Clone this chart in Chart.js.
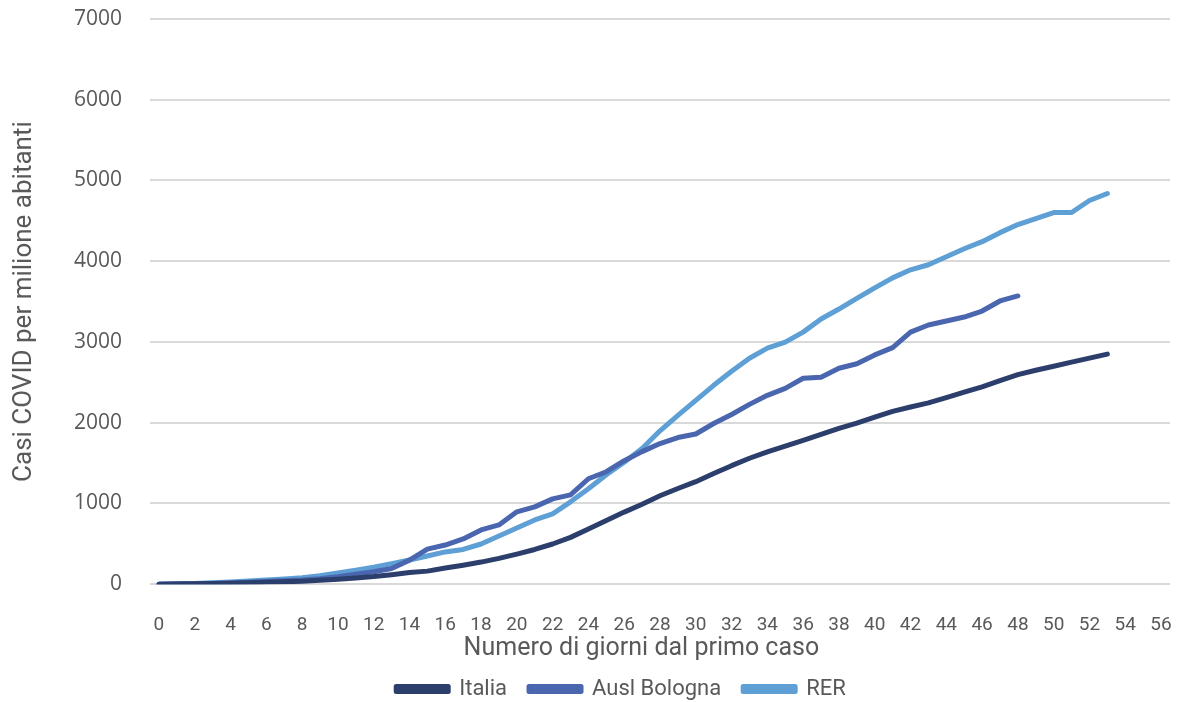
<!DOCTYPE html>
<html>
<head>
<meta charset="utf-8">
<script src="https://cdn.jsdelivr.net/npm/chart.js@4.4.1/dist/chart.umd.min.js"></script>
<style>
  html, body { margin: 0; padding: 0; background: #fff; }
  #wrap { width: 1184px; height: 702px; position: relative; }
</style>
</head>
<body>
<div id="wrap"><canvas id="chart"></canvas></div>
<script>
// days since first case (category axis)
const days = [0, 1, 2, 3, 4, 5, 6, 7, 8, 9, 10, 11, 12, 13, 14, 15, 16, 17, 18, 19,
    20, 21, 22, 23, 24, 25, 26, 27, 28, 29, 30, 31, 32, 33, 34, 35, 36, 37, 38, 39,
    40, 41, 42, 43, 44, 45, 46, 47, 48, 49, 50, 51, 52, 53, 54, 55, 56];

// cases per million inhabitants
const italia = [0, 2, 5, 8, 12, 17, 23, 30, 38, 50, 62, 78, 95, 118, 145, 162, 200, 235, 274, 320,
    373, 430, 498, 580, 684, 790, 893, 990, 1095, 1185, 1270, 1370, 1468, 1560, 1640, 1710, 1780, 1855, 1930, 1995,
    2070, 2140, 2195, 2245, 2310, 2380, 2445, 2520, 2595, 2650, 2700, 2750, 2800, 2850];

const bologna = [0, 3, 6, 10, 16, 23, 32, 42, 52, 68, 92, 125, 155, 195, 298, 435, 485, 560, 672, 734,
    896, 958, 1057, 1107, 1306, 1393, 1530, 1642, 1742, 1816, 1860, 1990, 2102, 2227, 2339, 2426, 2550, 2563, 2675, 2730,
    2840, 2930, 3122, 3210, 3259, 3309, 3383, 3508, 3570];

const rer = [0, 5, 10, 18, 28, 40, 52, 64, 80, 105, 138, 172, 210, 255, 300, 350, 400, 430, 498, 597,
    697, 796, 871, 1020, 1182, 1356, 1510, 1680, 1900, 2090, 2277, 2463, 2637, 2799, 2923, 2998, 3122, 3284, 3408, 3540,
    3670, 3794, 3894, 3956, 4055, 4155, 4242, 4354, 4454, 4528, 4603, 4603, 4752, 4839];

const yTicks = [0, 1000, 2000, 3000, 4000, 5000, 6000, 7000];

const textColor = "#595959";
const mainFont = "'Roboto', sans-serif";

// the legend in the picture sits a little right of centre
const legendShift = {
    id: "legendShift",
    afterLayout(chart) {
        chart.legend.left += 36;
        chart.legend.right += 36;
    }
};

const ctx = document.getElementById("chart").getContext("2d");
const myChart = new Chart(ctx, {
    type: "line",
    data: {
        labels: days,
        datasets: [{
            label: "Italia",
            data: italia,
            borderColor: "#2b3e6c",
            backgroundColor: "#2b3e6c"
        }, {
            label: "Ausl Bologna",
            data: bologna,
            borderColor: "#4a66af",
            backgroundColor: "#4a66af"
        }, {
            label: "RER",
            data: rer,
            borderColor: "#5e9fd5",
            backgroundColor: "#5e9fd5"
        }]
    },
    plugins: [legendShift],
    options: {
        responsive: true,
        maintainAspectRatio: false,
        animation: false,
        devicePixelRatio: 1,
        elements: {
            line: { borderWidth: 5, borderCapStyle: "round", borderJoinStyle: "round", tension: 0 },
            point: { radius: 0, hoverRadius: 0 }
        },
        layout: {
            padding: { left: 0, right: 14, top: 19, bottom: -8 }
        },
        plugins: {
            tooltip: { enabled: false },
            legend: {
                position: "bottom",
                labels: {
                    color: textColor,
                    font: { family: mainFont, size: 22 },
                    boxWidth: 52,
                    boxHeight: 5,
                    padding: 22
                }
            }
        },
        scales: {
            x: {
                type: "category",
                offset: true,
                // invisible tick marks push the labels down without padding the chart area
                grid: { display: false, drawTicks: true, tickLength: 30, tickColor: "transparent" },
                border: { display: false },
                ticks: {
                    color: textColor,
                    font: { family: mainFont, size: 19 },
                    autoSkip: false,
                    maxRotation: 0,
                    padding: 0,
                    callback: function (value, index) {
                        return index % 2 === 0 ? days[index] : "";
                    }
                },
                title: {
                    display: true,
                    // trailing spaces nudge the centred title a bit to the left, like the original
                    text: "Numero di giorni dal primo caso      ",
                    color: textColor,
                    font: { family: mainFont, size: 25 },
                    padding: { top: -3, bottom: -8 }
                }
            },
            y: {
                min: 0,
                max: 7000,
                afterBuildTicks: function (scale) {
                    scale.ticks = yTicks.map(v => ({ value: v }));
                },
                afterFit: function (scale) {
                    scale.width = 150;
                },
                grid: { color: "#d9d9d9", lineWidth: 2, drawTicks: true, tickLength: 28, tickColor: "transparent" },
                border: { display: false },
                ticks: {
                    color: textColor,
                    font: { family: "'Open Sans', sans-serif", size: 21 },
                    padding: 0,
                    callback: function (value) {
                        return String(value);
                    }
                },
                title: {
                    display: true,
                    text: "Casi COVID per milione abitanti",
                    color: textColor,
                    font: { family: mainFont, size: 26 },
                    padding: { top: 9, bottom: 0 }
                }
            }
        }
    }
});
</script>
</body>
</html>
